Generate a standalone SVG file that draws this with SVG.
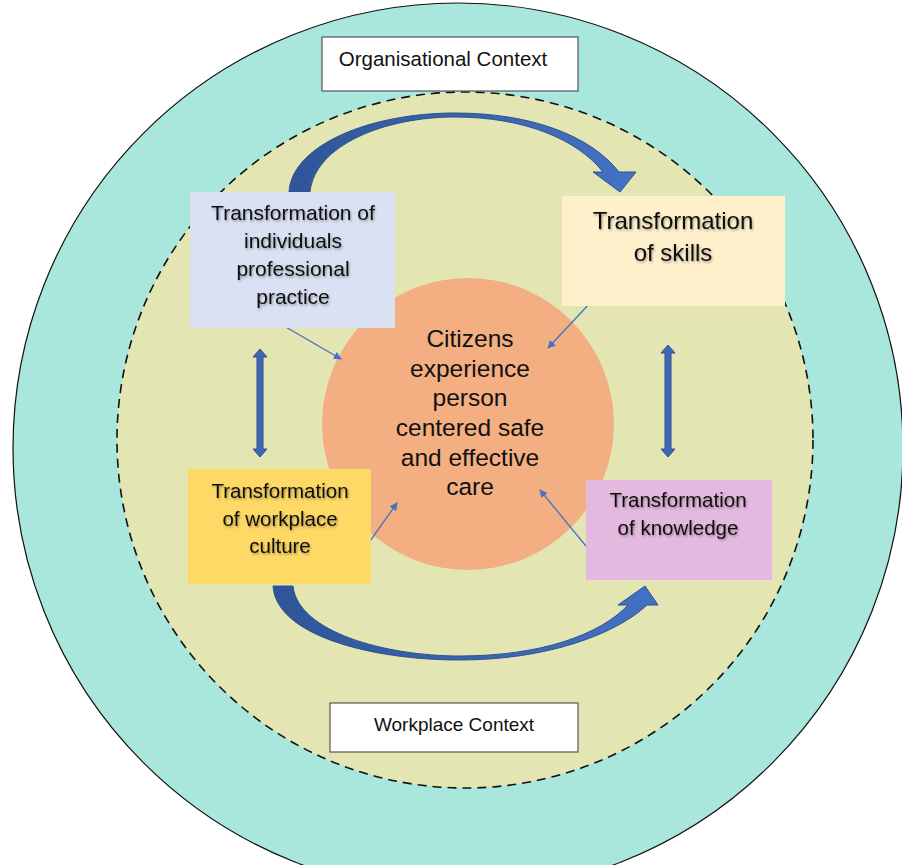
<svg xmlns="http://www.w3.org/2000/svg" width="902" height="865" viewBox="0 0 902 865">
<defs>
<style>
.t{font-family:"Liberation Sans",Arial,sans-serif;fill:#111;text-anchor:middle}
.box{stroke:none}
.ctx{fill:#fff;stroke:#555;stroke-width:1.2}
.thin{stroke:#4472C4;stroke-width:1.3;fill:none;marker-end:url(#tri)}
.big{stroke:#2F528F;stroke-width:1;fill:url(#g)}
.dbl{fill:#3F67B5;stroke:#2F528F;stroke-width:1}
</style>
<linearGradient id="g" x1="0" y1="0" x2="1" y2="0">
<stop offset="0" stop-color="#2F5597"/>
<stop offset="1" stop-color="#4472C4"/>
</linearGradient>
<marker id="tri" viewBox="0 0 10 10" refX="9" refY="5" markerWidth="8" markerHeight="8" markerUnits="userSpaceOnUse" orient="auto">
<path d="M0,0 L10,5 L0,10 Z" fill="#4472C4"/>
</marker>
<filter id="sh" x="-10%" y="-10%" width="120%" height="130%">
<feDropShadow dx="1" dy="1.5" stdDeviation="1" flood-color="#000" flood-opacity="0.35"/>
</filter>
</defs>
<rect width="902" height="865" fill="#fff"/>
<g id="organisational-context-circle">
<circle cx="458" cy="448" r="445" fill="#A9E6DC" stroke="#111" stroke-width="1.2"/>
</g>
<g id="workplace-context-circle">
<circle cx="465" cy="440" r="348" fill="#E3E5B3" stroke="#111" stroke-width="1.6" stroke-dasharray="9 6"/>
</g>
<g id="center">
<circle cx="468" cy="424" r="146" fill="#F3AE82"/>
<g class="t" font-size="24.5">
<text x="470" y="347">Citizens</text>
<text x="470" y="377">experience</text>
<text x="470" y="406">person</text>
<text x="470" y="436">centered safe</text>
<text x="470" y="466">and effective</text>
<text x="470" y="495">care</text>
</g>
</g>
<g id="org-context-label">
<rect class="ctx" x="322" y="37" width="256" height="54"/>
<text class="t" x="443" y="66" font-size="20.5">Organisational Context</text>
</g>
<g id="workplace-context-label">
<rect class="ctx" x="330" y="703" width="248" height="49"/>
<text class="t" x="454" y="731" font-size="19">Workplace Context</text>
</g>
<g id="connectors">
<path class="big" d="M289,192 C292,145 370,113 455,113 C530,113 590,135 619,172 L636,172 L620,192 L593,172 L603,172 C578,140 525,117 455,117 C385,117 315,145 310,192 Z"/>
<path class="big" d="M273,586 C276,635 370,660 460,660 C545,660 615,635 647,605 L658,605 L645,586 L618,605 L628,605 C600,635 540,656 460,656 C385,656 298,632 293,586 Z"/>
<path class="dbl" d="M260,349 L267,357 L263,357 L263,449 L267,449 L260,457 L253,449 L257,449 L257,357 L253,357 Z"/>
<path class="dbl" d="M668,345 L675,353 L671,353 L671,449 L675,449 L668,457 L661,449 L665,449 L665,353 L661,353 Z"/>
<line class="thin" x1="284" y1="326" x2="341" y2="359"/>
<line class="thin" x1="591" y1="302" x2="548" y2="348"/>
<line class="thin" x1="358" y1="558" x2="397" y2="503"/>
<line class="thin" x1="590" y1="551" x2="540" y2="490"/>
</g>
<g id="individuals">
<rect class="box" x="190" y="192" width="205" height="136" fill="#D9E1F2"/>
<g class="t" font-size="21" filter="url(#sh)">
<text x="293" y="220">Transformation of</text>
<text x="293" y="248">individuals</text>
<text x="293" y="276">professional</text>
<text x="293" y="304">practice</text>
</g>
</g>
<g id="skills">
<rect class="box" x="562" y="196" width="223" height="110" fill="#FFF0CC"/>
<g class="t" font-size="24" filter="url(#sh)">
<text x="673" y="229">Transformation</text>
<text x="673" y="261">of skills</text>
</g>
</g>
<g id="workplace-culture">
<rect class="box" x="188" y="469" width="183" height="115" fill="#FFD966"/>
<g class="t" font-size="20.5" filter="url(#sh)">
<text x="280" y="498">Transformation</text>
<text x="280" y="526">of workplace</text>
<text x="280" y="553">culture</text>
</g>
</g>
<g id="knowledge">
<rect class="box" x="586" y="480" width="186" height="100" fill="#E4B9DF"/>
<g class="t" font-size="20.5" filter="url(#sh)">
<text x="678" y="507">Transformation</text>
<text x="678" y="535">of knowledge</text>
</g>
</g>
</svg>
